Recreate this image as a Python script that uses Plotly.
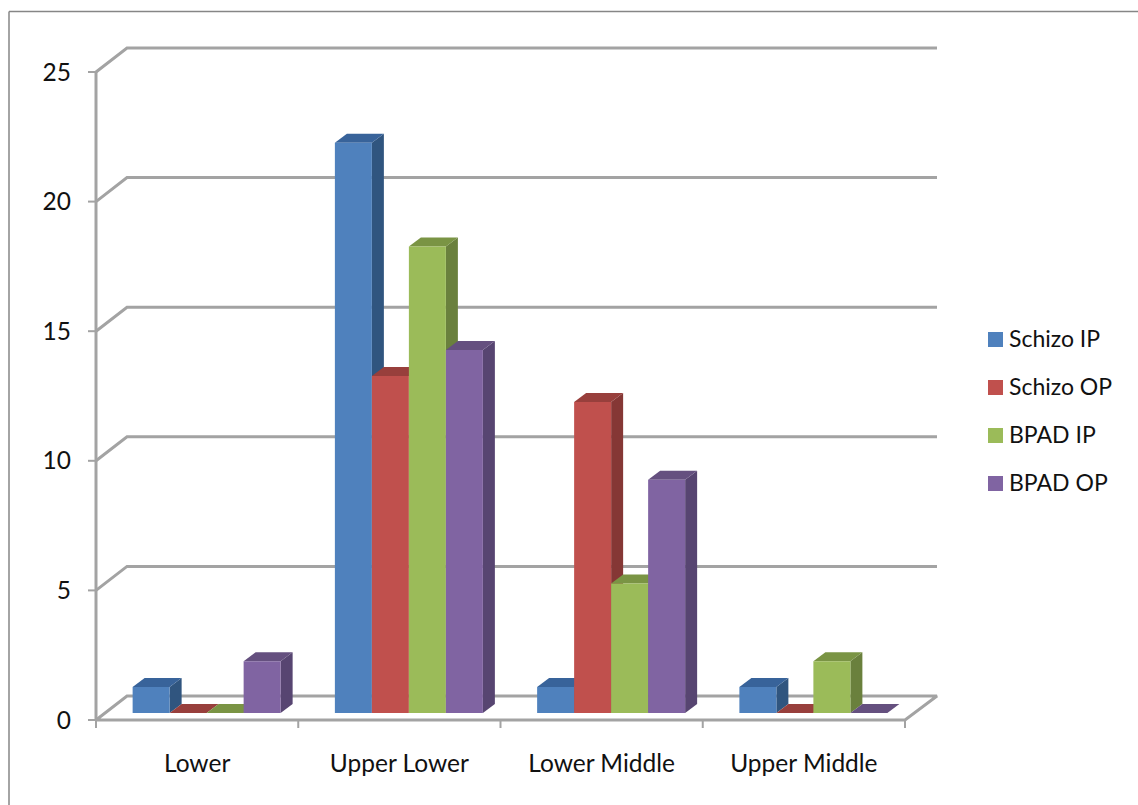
import plotly.graph_objects as go

# Chart data
categories = ["Lower", "Upper Lower", "Lower Middle", "Upper Middle"]
series_names = ["Schizo IP", "Schizo OP", "BPAD IP", "BPAD OP"]
schizo_ip = [1, 22, 1, 1]
schizo_op = [0, 13, 12, 0]
bpad_ip = [0, 18, 5, 2]
bpad_op = [2, 14, 9, 0]
y_ticks = [0, 5, 10, 15, 20, 25]

# Face colours per series: front, side, top
front_colors = ["#4F81BD", "#C0504D", "#9BBB59", "#8064A2"]
side_colors = ["#30557F", "#853735", "#6A803D", "#574571"]
top_colors = ["#38639A", "#983F3C", "#7A9444", "#65507F"]
AXIS_COLOR = "#A3A3A3"
FRAME_COLOR = "#868686"
TEXT_COLOR = "#111111"
FONT = "Lato"

# Chart box in pixels and the pseudo-3D projection, converted into axis units
WIDTH, HEIGHT = 1138, 805
LEFT, RIGHT, TOP, BOTTOM = 96, 937, 48, 720
PAD_L, PAD_R, PAD_T, PAD_B = 10, 4, 4, 10   # room for axis strokes and tick marks
PX_PER_CAT = 202.25
PX_PER_UNIT = 25.92
to_x = lambda px: px / PX_PER_CAT
to_y = lambda px: px / PX_PER_UNIT

X_MIN = -0.5
X_MAX = X_MIN + to_x(RIGHT - LEFT)
Y_MAX = to_y(BOTTOM - TOP)
X_RANGE = [X_MIN - to_x(PAD_L), X_MAX + to_x(PAD_R)]
Y_RANGE = [-to_y(PAD_B), Y_MAX + to_y(PAD_T)]
X_FRONT_END = X_MIN + len(categories)
WALL_DX, WALL_DY = to_x(31), to_y(24)
BAR_W = to_x(37)
BAR_SHIFT = to_x(9.5)
BAR_LIFT = to_y(7)
BAR_DX, BAR_DY = to_x(12), to_y(9)


def line_trace(xs, ys, width=3, color=AXIS_COLOR):
    return go.Scatter(x=xs, y=ys, mode="lines", line=dict(color=color, width=width),
                      hoverinfo="skip", showlegend=False)


def face_trace(xs, ys, color):
    return go.Scatter(x=xs, y=ys, mode="lines", fill="toself", fillcolor=color,
                      line=dict(width=0, color=color), hoverinfo="skip", showlegend=False)


fig = go.Figure()

# Back wall gridlines with their slanted floor connectors
for v in y_ticks[1:]:
    fig.add_trace(line_trace([X_MIN, X_MIN + WALL_DX, X_MAX],
                             [v, v + WALL_DY, v + WALL_DY]))

# Floor outline and vertical axis
fig.add_trace(line_trace(
    [X_MIN, X_FRONT_END, X_MAX, X_MIN + WALL_DX, X_MIN],
    [0, 0, WALL_DY, WALL_DY, 0]))
fig.add_trace(line_trace([X_MIN, X_MIN], [0, y_ticks[-1]]))

# Tick marks on both axes
tick_x, tick_y = [], []
for i in range(len(categories) + 1):
    tick_x += [X_MIN + i, X_MIN + i, None]
    tick_y += [0, -to_y(8), None]
for v in y_ticks:
    tick_x += [X_MIN, X_MIN - to_x(8), None]
    tick_y += [v, v, None]
fig.add_trace(line_trace(tick_x, tick_y, width=2))

all_values = [schizo_ip, schizo_op, bpad_ip, bpad_op]

# Side and top faces of every bar
for s, values in enumerate(all_values):
    for c, v in enumerate(values):
        x0 = c + BAR_SHIFT + (s - 2) * BAR_W
        x1 = x0 + BAR_W
        y0 = BAR_LIFT
        y1 = BAR_LIFT + v
        fig.add_trace(face_trace(
            [x1, x1 + BAR_DX, x1 + BAR_DX, x1, x1],
            [y0, y0 + BAR_DY, y1 + BAR_DY, y1, y0], side_colors[s]))
        fig.add_trace(face_trace(
            [x0, x1, x1 + BAR_DX, x0 + BAR_DX, x0],
            [y1, y1, y1 + BAR_DY, y1 + BAR_DY, y1], top_colors[s]))

# Front faces on an overlaid axis pair so they sit above the side faces
for s, values in enumerate(all_values):
    fig.add_trace(go.Bar(
        x=[c + BAR_SHIFT + (s - 1.5) * BAR_W for c in range(len(categories))],
        y=values, base=BAR_LIFT, width=BAR_W, name=series_names[s],
        marker=dict(color=front_colors[s], line=dict(width=0)),
        xaxis="x2", yaxis="y2", showlegend=False))

PLOT_L, PLOT_R = LEFT - PAD_L, RIGHT + PAD_R
PLOT_T, PLOT_B = TOP - PAD_T, BOTTOM + PAD_B


def paper_x(px):
    return (px - PLOT_L) / (PLOT_R - PLOT_L)


def paper_y(py):
    return (PLOT_B - py) / (PLOT_B - PLOT_T)


# Series key on the right
shapes = []
annotations = []
KEY_STEP = 48
for s, name in enumerate(series_names):
    top = 332 + s * KEY_STEP
    shapes.append(dict(type="rect", xref="paper", yref="paper", layer="above",
                       x0=paper_x(988), x1=paper_x(1003),
                       y0=paper_y(top + 15), y1=paper_y(top),
                       fillcolor=front_colors[s], line=dict(width=0)))
    annotations.append(dict(xref="paper", yref="paper", showarrow=False,
                            x=paper_x(1009), y=paper_y(top + 6), xanchor="left",
                            yanchor="middle", text=name, xshift=-2,
                            font=dict(family=FONT, size=23, color=TEXT_COLOR)))

# Outer frame: only its top and left edges are in view
shapes.append(dict(type="line", xref="paper", yref="paper",
                   x0=paper_x(9), x1=paper_x(WIDTH), y0=paper_y(11.5), y1=paper_y(11.5),
                   line=dict(color=FRAME_COLOR, width=1.5)))
shapes.append(dict(type="line", xref="paper", yref="paper",
                   x0=paper_x(9), x1=paper_x(9), y0=paper_y(11.5), y1=paper_y(HEIGHT),
                   line=dict(color=FRAME_COLOR, width=1.5)))

fig.update_layout(
    width=WIDTH, height=HEIGHT, autosize=False,
    margin=dict(l=PLOT_L, r=WIDTH - PLOT_R, t=PLOT_T, b=HEIGHT - PLOT_B, pad=0),
    paper_bgcolor="white", plot_bgcolor="white",
    barmode="overlay", showlegend=False, shapes=shapes, annotations=annotations,
    font=dict(family=FONT, size=24, color=TEXT_COLOR),
    xaxis=dict(range=X_RANGE, tickmode="array",
               tickvals=list(range(len(categories))), ticktext=categories,
               showgrid=False, zeroline=False, showline=False, ticks="",
               ticklabelstandoff=16, tickfont=dict(family=FONT, size=24.5, color=TEXT_COLOR)),
    yaxis=dict(range=Y_RANGE, tickmode="array", tickvals=y_ticks,
               showgrid=False, zeroline=False, showline=False, ticks="",
               ticklabelstandoff=14, tickfont=dict(family=FONT, size=24.5, color=TEXT_COLOR)),
    xaxis2=dict(range=X_RANGE, overlaying="x", visible=False),
    yaxis2=dict(range=Y_RANGE, overlaying="y", visible=False),
)

fig.write_html("out.html")
